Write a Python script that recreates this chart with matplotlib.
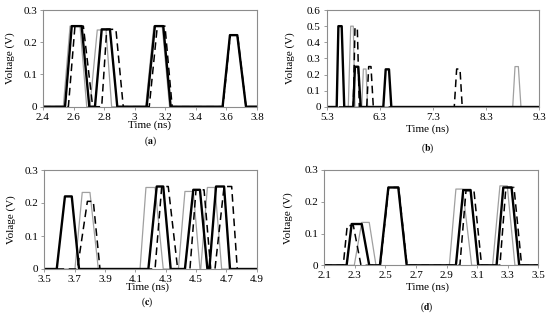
import numpy as np
import matplotlib
matplotlib.use("Agg")
import matplotlib.pyplot as plt

plt.rcParams['font.family'] = ['Liberation Serif', 'DejaVu Serif']
plt.rcParams['mathtext.fontset'] = 'stix'

# pulses: (rise start, top start, top end, fall end, height) in ns / V
a_black = [(2.544, 2.588, 2.653, 2.703, 0.25), (2.740, 2.784, 2.838, 2.886, 0.24),
           (3.078, 3.132, 3.187, 3.235, 0.25), (3.575, 3.623, 3.671, 3.728, 0.222)]
a_gray = [(2.533, 2.577, 2.642, 2.686, 0.25), (2.707, 2.755, 2.812, 2.849, 0.238),
          (3.072, 3.125, 3.180, 3.228, 0.25), (3.575, 3.623, 3.671, 3.728, 0.222)]
a_dash = [(2.566, 2.609, 2.664, 2.725, 0.25), (2.784, 2.817, 2.877, 2.925, 0.24),
          (3.095, 3.148, 3.198, 3.245, 0.25), (3.577, 3.625, 3.673, 3.728, 0.222)]

b_black = [(5.488, 5.520, 5.582, 5.630, 0.50), (5.800, 5.832, 5.894, 5.940, 0.249),
           (6.365, 6.410, 6.472, 6.516, 0.233)]
b_gray = [(5.706, 5.752, 5.800, 5.832, 0.50), (5.959, 5.990, 6.040, 6.070, 0.235),
          (8.800, 8.843, 8.906, 8.955, 0.25)]
b_dash = [(5.800, 5.832, 5.876, 5.914, 0.49), (6.053, 6.090, 6.133, 6.177, 0.25),
          (7.700, 7.745, 7.808, 7.850, 0.235)]

c_black = [(3.582, 3.636, 3.681, 3.729, 0.22), (4.186, 4.241, 4.284, 4.333, 0.25),
           (4.427, 4.482, 4.526, 4.575, 0.24), (4.588, 4.632, 4.685, 4.724, 0.25)]
c_gray = [(3.702, 3.750, 3.801, 3.856, 0.232), (4.131, 4.170, 4.230, 4.284, 0.247),
          (4.384, 4.427, 4.482, 4.526, 0.235), (4.531, 4.575, 4.625, 4.669, 0.247)]
c_dash = [(3.718, 3.784, 3.823, 3.867, 0.205), (4.230, 4.274, 4.317, 4.379, 0.25),
          (4.460, 4.500, 4.553, 4.597, 0.24), (4.625, 4.685, 4.735, 4.772, 0.25)]

d_black = [(2.246, 2.279, 2.345, 2.394, 0.13), (2.464, 2.519, 2.584, 2.639, 0.245),
           (2.961, 3.009, 3.057, 3.107, 0.237), (3.227, 3.271, 3.325, 3.375, 0.245)]
d_gray = [(2.296, 2.345, 2.394, 2.438, 0.135), (2.464, 2.519, 2.584, 2.639, 0.245),
          (2.918, 2.961, 3.005, 3.064, 0.24), (3.201, 3.249, 3.297, 3.347, 0.25)]
d_dash = [(2.224, 2.250, 2.290, 2.340, 0.125), (2.466, 2.521, 2.586, 2.641, 0.245),
          (2.987, 3.027, 3.079, 3.129, 0.235), (3.249, 3.288, 3.341, 3.391, 0.245)]

panels = [
    dict(black=a_black, gray=a_gray, dash=a_dash, xlim=(2.4, 3.8),
         xticks=[2.4, 2.6, 2.8, 3.0, 3.2, 3.4, 3.6, 3.8],
         xlabels=['2.4', '2.6', '2.8', '3', '3.2', '3.4', '3.6', '3.8'],
         ylim=0.3, yticks=[0, 0.1, 0.2, 0.3], ylabel='Voltage (V)', tag='a'),
    dict(black=b_black, gray=b_gray, dash=b_dash, xlim=(5.3, 9.3),
         xticks=[5.3, 6.3, 7.3, 8.3, 9.3],
         xlabels=['5.3', '6.3', '7.3', '8.3', '9.3'],
         ylim=0.6, yticks=[0, 0.1, 0.2, 0.3, 0.4, 0.5, 0.6], ylabel='Voltage (V)', tag='b'),
    dict(black=c_black, gray=c_gray, dash=c_dash, xlim=(3.5, 4.9),
         xticks=[3.5, 3.7, 3.9, 4.1, 4.3, 4.5, 4.7, 4.9],
         xlabels=['3.5', '3.7', '3.9', '4.1', '4.3', '4.5', '4.7', '4.9'],
         ylim=0.3, yticks=[0, 0.1, 0.2, 0.3], ylabel='Volage (V)', tag='c'),
    dict(black=d_black, gray=d_gray, dash=d_dash, xlim=(2.1, 3.5),
         xticks=[2.1, 2.3, 2.5, 2.7, 2.9, 3.1, 3.3, 3.5],
         xlabels=['2.1', '2.3', '2.5', '2.7', '2.9', '3.1', '3.3', '3.5'],
         ylim=0.3, yticks=[0, 0.1, 0.2, 0.3], ylabel='Voltage (V)', tag='d'),
]

# axes boxes in pixels: left, top, right, bottom
boxes = [(43, 10, 257, 106.7), (326.7, 10, 539.3, 107),
         (44.3, 170, 256.7, 269), (324.3, 170, 538.3, 265.3)]
# text positions in pixels: ylabel x, xlabel x, xlabel y, caption y
texts = [(10, 150, 125, 141), (290, 428, 129, 148),
         (11, 147, 287.5, 302), (288, 427, 287, 307)]

W, H = 550, 321


def wave(pulses, xlim):
    t = [xlim[0]]
    v = [0]
    for p in pulses:
        t += [p[0], p[1], p[2], p[3]]
        v += [0, p[4], p[4], 0]
    t.append(xlim[1])
    v.append(0)
    return t, v


fig = plt.figure(figsize=(W / 100, H / 100), dpi=100)

for p, box, tx in zip(panels, boxes, texts):
    l, t, r, b = box
    ax = fig.add_axes([l / W, 1 - b / H, (r - l) / W, (b - t) / H])
    x, y = wave(p['gray'], p['xlim'])
    ax.plot(x, y, color='#a0a0a0', lw=0.9)
    x, y = wave(p['dash'], p['xlim'])
    ax.plot(x, y, color='black', lw=1.1, dashes=(5, 3))
    x, y = wave(p['black'], p['xlim'])
    ax.plot(x, y, color='black', lw=1.7)
    ax.set_xlim(p['xlim'])
    ax.set_ylim(0, p['ylim'])
    ax.set_xticks(p['xticks'])
    ax.set_xticklabels(p['xlabels'])
    ax.set_yticks(p['yticks'])
    ax.set_yticklabels(['0'] + ['%.1f' % v for v in p['yticks'][1:]])
    for s in ax.spines.values():
        s.set_color('#8c8c8c')
        s.set_linewidth(0.8)
    ax.tick_params(labelsize=8, length=2.2, width=0.6, color='#8c8c8c', pad=2)

    yx, xx, xy, cy = tx
    fig.text(yx / W, 1 - ((t + b) / 2) / H, p['ylabel'], rotation=90,
             ha='center', va='center', fontsize=8)
    fig.text(xx / W, 1 - xy / H, 'Time (ns)', ha='center', va='center', fontsize=8)
    fig.text(xx / W, 1 - cy / H, '($\\mathbf{' + p['tag'] + '}$)', ha='center',
             va='center', fontsize=7)

fig.savefig('out.png', dpi=100)
